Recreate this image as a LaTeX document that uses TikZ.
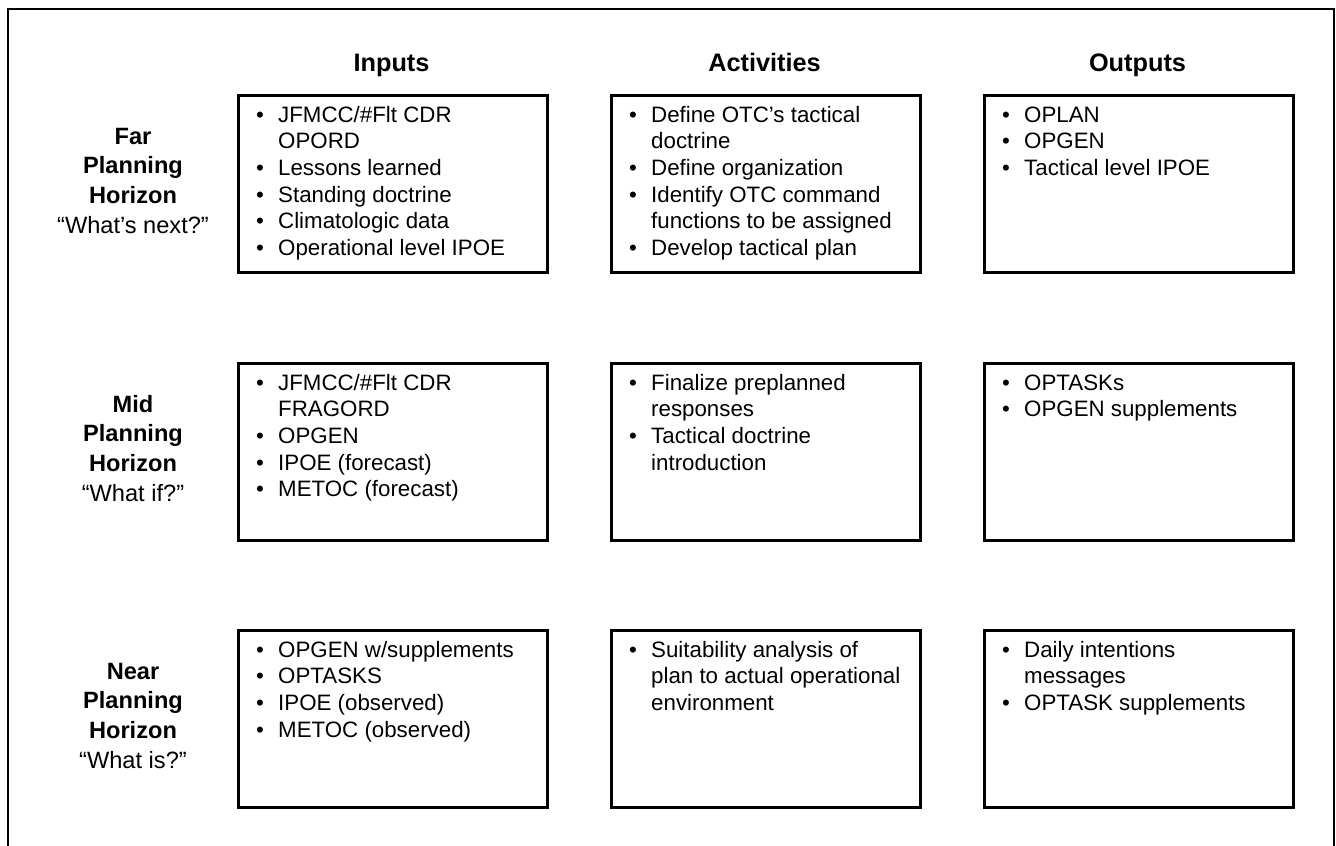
\documentclass[tikz,border=0pt]{standalone}
\usepackage{fontspec}
\setmainfont{Liberation Sans}
\newcommand{\bt}{\makebox[22pt][l]{\textbullet}}
\begin{document}
\begin{tikzpicture}[x=1pt,y=-1pt,
  panel/.style={draw, line width=2.6pt, minimum width=309pt, minimum height=177pt,
                inner sep=0pt, anchor=north west},
  itemlist/.style={anchor=base west, inner sep=0pt, font=\fontsize{22.3}{26.7}\selectfont},
  colhead/.style={anchor=base, inner sep=0pt, font=\fontsize{25.3}{29}\selectfont\bfseries},
  rowhead/.style={anchor=base, inner sep=0pt, font=\fontsize{23.6}{29.7}\selectfont}
]
\useasboundingbox (0,0) rectangle (1336,846);

% outer frame, open at the bottom
\coordinate (fbl) at (8,846);
\coordinate (ftl) at (8,9);
\coordinate (ftr) at (1334,9);
\coordinate (fbr) at (1334,846);
\draw[line width=2.2pt] (fbl) -- (ftl) -- (ftr) -- (fbr);

% column headings
\node[colhead] (hin)  at (391.5,71) {Inputs};
\node[colhead] (hact) at (764.5,71) {Activities};
\node[colhead] (hout) at (1137.5,71) {Outputs};

% row headings
\node[rowhead] (rfar) at (133,144) {\begin{tabular}[t]{@{}c@{}}
  \bfseries Far\\ \bfseries Planning\\ \bfseries Horizon\\ “What’s next?”\end{tabular}};
\node[rowhead] (rmid) at (133,412) {\begin{tabular}[t]{@{}c@{}}
  \bfseries Mid\\ \bfseries Planning\\ \bfseries Horizon\\ “What if?”\end{tabular}};
\node[rowhead] (rnear) at (133,679) {\begin{tabular}[t]{@{}c@{}}
  \bfseries Near\\ \bfseries Planning\\ \bfseries Horizon\\ “What is?”\end{tabular}};

% panels
\node[panel] (farin)   at (237,94)  {};
\node[panel] (faract)  at (610,94)  {};
\node[panel] (farout)  at (983,94)  {};
\node[panel] (midin)   at (237,362) {};
\node[panel] (midact)  at (610,362) {};
\node[panel] (midout)  at (983,362) {};
\node[panel] (nearin)  at (237,629) {};
\node[panel] (nearact) at (610,629) {};
\node[panel] (nearout) at (983,629) {};

% far horizon
\node[itemlist] (tfarin) at ([shift={(19,28)}]farin.north west) {\begin{tabular}[t]{@{}l@{}l@{}}
  \bt & JFMCC/\#Flt CDR\\ & OPORD\\ \bt & Lessons learned\\ \bt & Standing doctrine\\
  \bt & Climatologic data\\ \bt & Operational level IPOE\end{tabular}};
\node[itemlist] (tfaract) at ([shift={(19,28)}]faract.north west) {\begin{tabular}[t]{@{}l@{}l@{}}
  \bt & Define OTC’s tactical\\ & doctrine\\ \bt & Define organization\\
  \bt & Identify OTC command\\ & functions to be assigned\\ \bt & Develop tactical plan\end{tabular}};
\node[itemlist] (tfarout) at ([shift={(19,28)}]farout.north west) {\begin{tabular}[t]{@{}l@{}l@{}}
  \bt & OPLAN\\ \bt & OPGEN\\ \bt & Tactical level IPOE\end{tabular}};

% mid horizon
\node[itemlist] (tmidin) at ([shift={(19,28)}]midin.north west) {\begin{tabular}[t]{@{}l@{}l@{}}
  \bt & JFMCC/\#Flt CDR\\ & FRAGORD\\ \bt & OPGEN\\ \bt & IPOE (forecast)\\
  \bt & METOC (forecast)\end{tabular}};
\node[itemlist] (tmidact) at ([shift={(19,28)}]midact.north west) {\begin{tabular}[t]{@{}l@{}l@{}}
  \bt & Finalize preplanned\\ & responses\\ \bt & Tactical doctrine\\ & introduction\end{tabular}};
\node[itemlist] (tmidout) at ([shift={(19,28)}]midout.north west) {\begin{tabular}[t]{@{}l@{}l@{}}
  \bt & OPTASKs\\ \bt & OPGEN supplements\end{tabular}};

% near horizon
\node[itemlist] (tnearin) at ([shift={(19,28)}]nearin.north west) {\begin{tabular}[t]{@{}l@{}l@{}}
  \bt & OPGEN w/supplements\\ \bt & OPTASKS\\ \bt & IPOE (observed)\\
  \bt & METOC (observed)\end{tabular}};
\node[itemlist] (tnearact) at ([shift={(19,28)}]nearact.north west) {\begin{tabular}[t]{@{}l@{}l@{}}
  \bt & Suitability analysis of\\ & plan to actual operational\\ & environment\end{tabular}};
\node[itemlist] (tnearout) at ([shift={(19,28)}]nearout.north west) {\begin{tabular}[t]{@{}l@{}l@{}}
  \bt & Daily intentions\\ & messages\\ \bt & OPTASK supplements\end{tabular}};
\end{tikzpicture}
\end{document}
